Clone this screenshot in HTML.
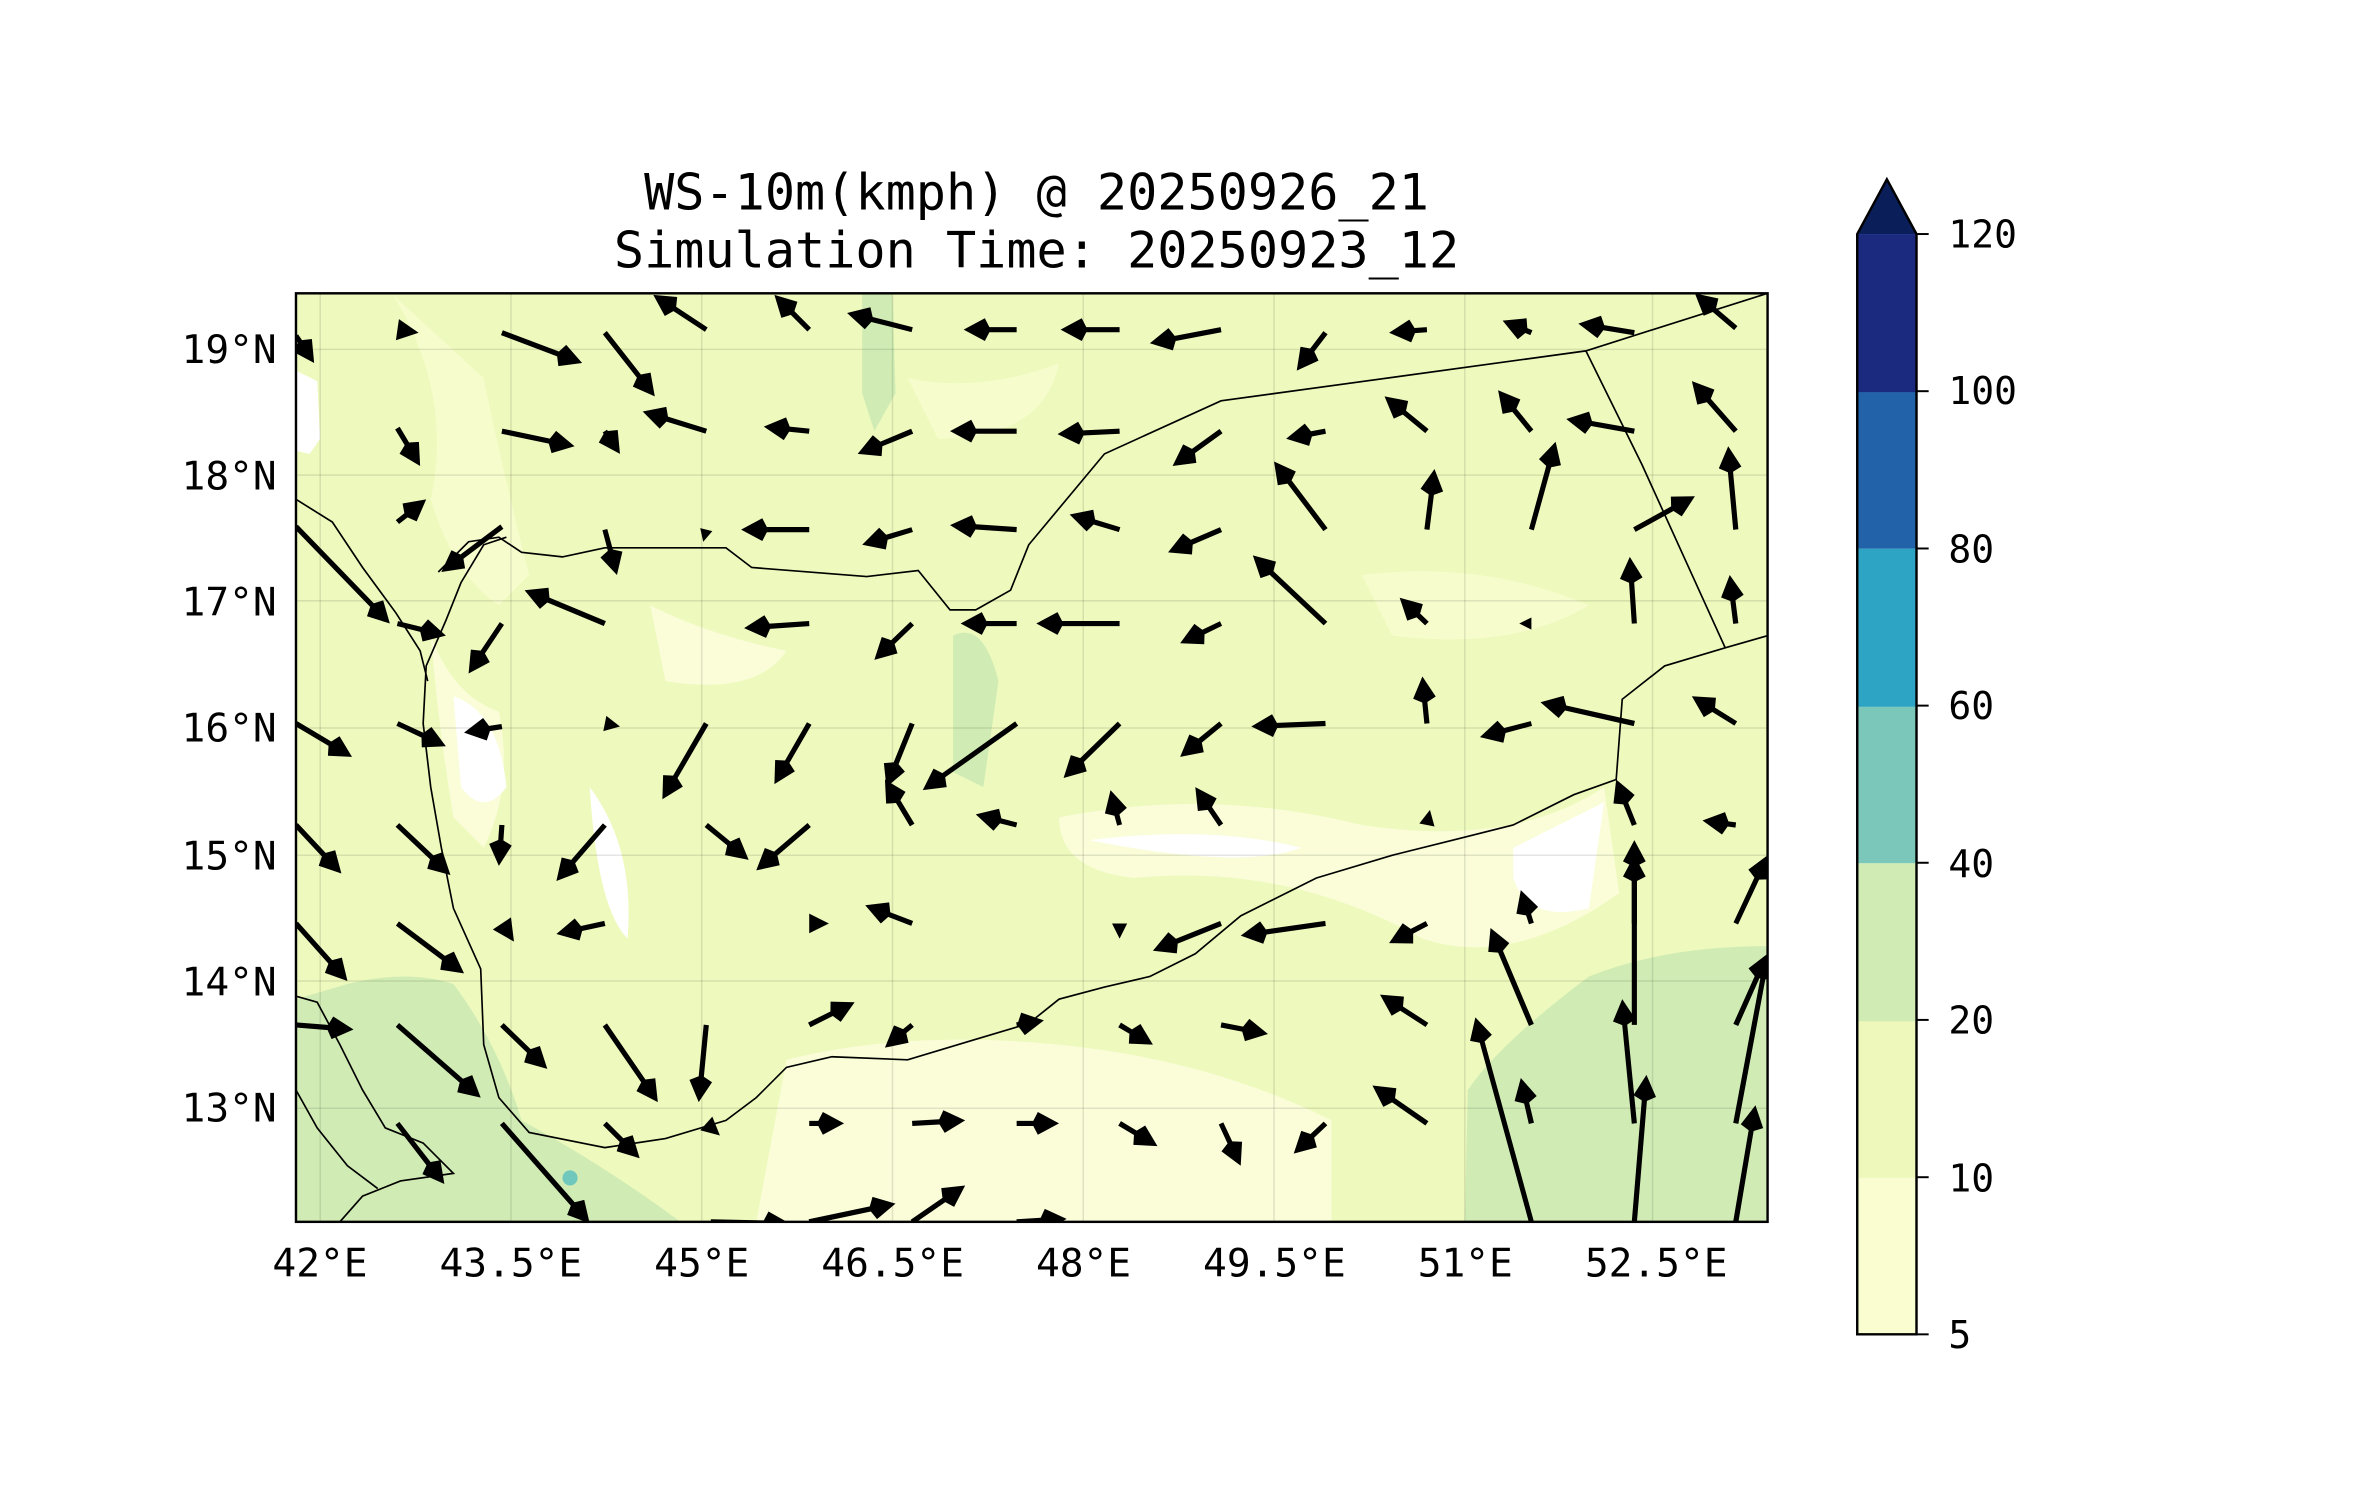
<!DOCTYPE html>
<html><head><meta charset="utf-8"><style>
html,body{margin:0;padding:0;background:#fff;}
svg{display:block;}
text{font-family:"DejaVu Sans Mono","Liberation Mono",monospace;fill:#000;}
</style></head><body>
<svg id="s" width="2371" height="1500" viewBox="0 0 1560 987" xmlns="http://www.w3.org/2000/svg">
<defs><clipPath id="c"><rect x="196" y="194" width="972" height="613"/></clipPath></defs>
<text x="682" y="138" font-size="33" text-anchor="middle">WS-10m(kmph) @ 20250926_21</text>
<text x="682" y="176" font-size="33" text-anchor="middle">Simulation Time: 20250923_12</text>
<g transform="translate(194.7,193) scale(0.9962,0.9967) translate(-196,-194)">
<g clip-path="url(#c)">
<rect x="196" y="194" width="972" height="613" fill="#eef9bd"/>
<path d="M196,245 L210,252 L212,290 L205,300 L196,298Z" fill="#fff"/>
<path d="M285,420 Q300,460 330,470 Q340,520 320,560 L300,540 Q290,480 285,420Z" fill="#fafdd8"/>
<path d="M700,540 Q800,520 900,545 Q1000,560 1060,520 L1070,590 Q1000,640 940,620 Q850,570 750,580 Q700,575 700,540Z" fill="#fafdd8"/>
<path d="M720,555 Q800,545 860,560 Q820,575 720,555Z" fill="#fff"/>
<path d="M1000,560 Q1040,540 1060,530 L1050,600 Q1010,610 1000,580Z" fill="#fff"/>
<path d="M300,460 Q330,470 335,520 Q320,540 305,520Z" fill="#fff"/>
<path d="M520,700 Q600,680 700,690 Q800,700 880,740 L880,807 L500,807Z" fill="#fafdd8"/>
<path d="M260,195 Q300,260 285,330 Q300,380 330,400 L350,380 Q330,300 320,250 Z" fill="#f6fccc"/>
<path d="M430,400 Q470,420 520,430 Q500,460 440,450Z" fill="#fafdd8"/>
<path d="M600,250 Q650,260 700,240 Q690,290 620,290Z" fill="#f6fccc"/>
<path d="M900,380 Q980,370 1050,400 Q1000,430 920,420Z" fill="#f6fccc"/>
<path d="M390,520 Q420,560 415,620 Q395,600 390,520Z" fill="#fff"/>
<path d="M570,194 L590,194 L592,260 L578,285 L570,260Z" fill="#d0ecb4"/>
<path d="M630,420 Q650,410 660,450 L650,520 L630,510Z" fill="#d0ecb4"/>
<path d="M968,807 L970,720 Q990,690 1050,645 Q1100,625 1168,625 L1168,807Z" fill="#d0ecb4"/>
<path d="M196,660 L230,650 Q270,640 300,650 Q330,690 345,740 Q400,770 450,807 L196,807Z" fill="#d0ecb4"/>
<circle cx="377" cy="778" r="5" fill="#6fc8bb"/>
<g stroke="#000" stroke-opacity="0.1" stroke-width="1">
<line x1="212" y1="194" x2="212" y2="807"/><line x1="338" y1="194" x2="338" y2="807"/><line x1="464" y1="194" x2="464" y2="807"/><line x1="590" y1="194" x2="590" y2="807"/><line x1="716" y1="194" x2="716" y2="807"/><line x1="842" y1="194" x2="842" y2="807"/><line x1="968" y1="194" x2="968" y2="807"/><line x1="1092" y1="194" x2="1092" y2="807"/>
<line x1="196" y1="231" x2="1168" y2="231"/><line x1="196" y1="314" x2="1168" y2="314"/><line x1="196" y1="397" x2="1168" y2="397"/><line x1="196" y1="481" x2="1168" y2="481"/><line x1="196" y1="565" x2="1168" y2="565"/><line x1="196" y1="648" x2="1168" y2="648"/><line x1="196" y1="732" x2="1168" y2="732"/>
</g>
<g fill="none" stroke="#000" stroke-width="1.1">
<path d="M290,378 L310,358 L330,355 L345,365 L372,368 L400,362 L480,362 L497,375 L573,381 L607,377 L628,403 L645,403 L668,390 L680,360 L730,300 L807,265 L1048,232 L1168,194"/>
<path d="M1048,232 L1085,307 L1140,428"/>
<path d="M1168,420 L1140,428 L1100,440 L1072,462 L1068,515 L1040,525 L1000,545 L960,555 L920,565 L870,580 L820,605 L790,630 L760,645 L730,652 L700,660 L680,676 L640,688 L600,700 L550,698 L520,705 L500,725 L480,740 L440,752 L400,758 L350,748 L330,725 L320,690 L318,640 L300,600 L292,560 L285,520 L280,478 L282,440 L295,410 L305,385 L320,360 L335,355"/>
<path d="M196,330 L220,345 L240,375 L262,405 L278,430 L283,450"/>
<path d="M196,658 L210,662 L225,690 L240,720 L255,745 L280,755 L300,775 L265,780 L240,790 L225,807"/>
<path d="M196,720 L210,745 L230,770 L250,785"/>
</g>
<g id="arr" fill="#000"></g>
</g>
<rect x="196" y="194" width="972" height="613" fill="none" stroke="#000" stroke-width="1.6"/>
</g>
<g font-size="26" text-anchor="middle">
<text x="210.5" y="840">42°E</text><text x="336.1" y="840">43.5°E</text><text x="461.7" y="840">45°E</text><text x="587.3" y="840">46.5°E</text><text x="712.9" y="840">48°E</text><text x="838.5" y="840">49.5°E</text><text x="964.1" y="840">51°E</text><text x="1089.7" y="840">52.5°E</text>
</g>
<g font-size="26" text-anchor="end">
<text x="182" y="239">19°N</text><text x="182" y="322">18°N</text><text x="182" y="405">17°N</text><text x="182" y="488">16°N</text><text x="182" y="572">15°N</text><text x="182" y="655">14°N</text><text x="182" y="738">13°N</text>
</g>
<rect x="1222" y="775" width="39" height="103" fill="#fafdd0"/>
<rect x="1222" y="671" width="39" height="104" fill="#eef8bb"/>
<rect x="1222" y="568" width="39" height="104" fill="#d0ecb4"/>
<rect x="1222" y="464" width="39" height="104" fill="#7bc8bb"/>
<rect x="1222" y="361" width="39" height="104" fill="#2ea4c4"/>
<rect x="1222" y="257" width="39" height="104" fill="#2262a8"/>
<rect x="1222" y="154" width="39" height="104" fill="#1b2a7e"/>
<path d="M1222,154 L1241.5,118 L1261,154Z" fill="#0a1f5a"/>
<path d="M1222,154 L1241.5,118 L1261,154 L1261,878 L1222,878Z" fill="none" stroke="#000" stroke-width="1.6"/>
<g stroke="#000" stroke-width="1.3">
<line x1="1261" y1="154" x2="1269" y2="154"/><line x1="1261" y1="257.4" x2="1269" y2="257.4"/><line x1="1261" y1="360.9" x2="1269" y2="360.9"/><line x1="1261" y1="464.3" x2="1269" y2="464.3"/><line x1="1261" y1="567.7" x2="1269" y2="567.7"/><line x1="1261" y1="671.1" x2="1269" y2="671.1"/><line x1="1261" y1="774.6" x2="1269" y2="774.6"/><line x1="1261" y1="878" x2="1269" y2="878"/>
</g>
<g font-size="25">
<text x="1282" y="163">120</text><text x="1282" y="266">100</text><text x="1282" y="370">80</text><text x="1282" y="473">60</text><text x="1282" y="577">40</text><text x="1282" y="680">20</text><text x="1282" y="784">10</text><text x="1282" y="887">5</text>
</g>
</svg>
<script>
var A=[[196,222,208,240],[263,218,277,220],[332,220,385,240],[400,220,433,262],[467,218,432,195],[535,218,512,195],[603,218,560,207],[672,218,637,218],[740,218,701,218],[807,218,760,227],[876,220,857,245],[943,218,918,220],[1012,220,993,212],[1080,220,1043,214],[1147,217,1120,194],
[263,283,278,308],[332,285,380,295],[400,285,410,300],[467,285,425,272],[535,285,505,282],[603,285,567,300],[672,285,628,285],[740,285,699,287],[807,285,775,308],[876,285,850,290],[943,285,915,262],[1012,285,990,258],[1080,285,1035,277],[1147,285,1118,252],
[263,345,282,330],[332,348,292,378],[400,350,408,380],[467,350,465,358],[535,350,490,350],[603,350,570,360],[672,350,628,347],[740,350,707,340],[807,350,772,365],[876,350,842,305],[943,350,948,310],[1012,350,1028,292],[1080,350,1120,328],[1147,350,1142,295],
[196,348,258,412],[263,412,295,420],[332,412,310,445],[400,412,347,390],[535,412,492,415],[603,412,578,436],[672,412,635,412],[740,412,685,412],[807,412,780,425],[876,412,828,367],[943,412,925,395],[1012,412,1004,412],[1080,412,1077,368],[1147,412,1143,380],
[196,478,233,500],[263,478,295,493],[332,480,307,484],[400,478,410,480],[467,478,438,528],[535,478,512,518],[603,478,586,520],[672,478,610,522],[740,478,703,514],[807,478,780,500],[876,478,827,480],[943,478,940,447],[1012,478,978,487],[1080,478,1018,464],[1147,478,1118,460],
[196,545,226,577],[263,545,298,578],[332,545,330,572],[400,545,368,582],[467,545,495,568],[535,545,500,575],[603,545,585,515],[672,545,645,538],[740,545,734,522],[807,545,790,520],[943,545,945,535],[1080,545,1068,515],[1147,545,1125,542],
[196,610,230,648],[263,610,307,643],[332,610,340,622],[400,610,368,617],[535,610,548,610],[603,610,572,598],[740,610,740,620],[807,610,762,628],[876,610,820,618],[943,610,918,623],[1012,610,1005,588],[1080,610,1080,555],[1147,610,1168,565],
[263,677,318,725],[332,677,362,706],[400,677,435,728],[467,677,462,728],[535,677,565,662],[603,677,585,692],[672,677,690,674],[740,677,762,690],[807,677,838,683],[943,677,912,657],[1012,677,985,613],[1080,677,1080,565],[1147,677,1168,630],
[196,677,234,680],[263,742,294,782],[332,742,390,808],[400,742,423,765],[467,742,476,750],[535,742,558,742],[603,742,638,740],[672,742,700,742],[740,742,765,757],[807,742,820,770],[876,742,855,762],[943,742,907,717],[1012,742,1005,712],[1080,742,1072,660],[1147,742,1168,630],
[470,807,522,808],[535,807,592,795],[603,807,638,783],[672,807,705,805],[1012,807,975,672],[1080,807,1088,710],[1147,807,1160,730]];
var g=document.getElementById('arr'),h='';
A.forEach(function(a){var dx=a[2]-a[0],dy=a[3]-a[1],L=Math.sqrt(dx*dx+dy*dy);if(L<3)return;
var ux=dx/L,uy=dy/L,px=-uy,py=ux,hl=Math.min(17,L),hw=7.5,sw=1.7,hw2=Math.min(hw,hl*0.5);
var bx=a[2]-ux*hl,by=a[3]-uy*hl;
var pts=[[a[0]+px*sw,a[1]+py*sw],[bx+px*sw,by+py*sw],[bx+ux*3+px*hw2,by+uy*3+py*hw2],[a[2],a[3]],[bx+ux*3-px*hw2,by+uy*3-py*hw2],[bx-px*sw,by-py*sw],[a[0]-px*sw,a[1]-py*sw]];
if(L<=hl+1)pts=[[a[0]+px*hw2,a[1]+py*hw2],[a[2],a[3]],[a[0]-px*hw2,a[1]-py*hw2]];
h+='<polygon points="'+pts.map(function(p){return p[0].toFixed(1)+','+p[1].toFixed(1)}).join(' ')+'"/>';});
g.innerHTML=h;
</script>
</body></html>
